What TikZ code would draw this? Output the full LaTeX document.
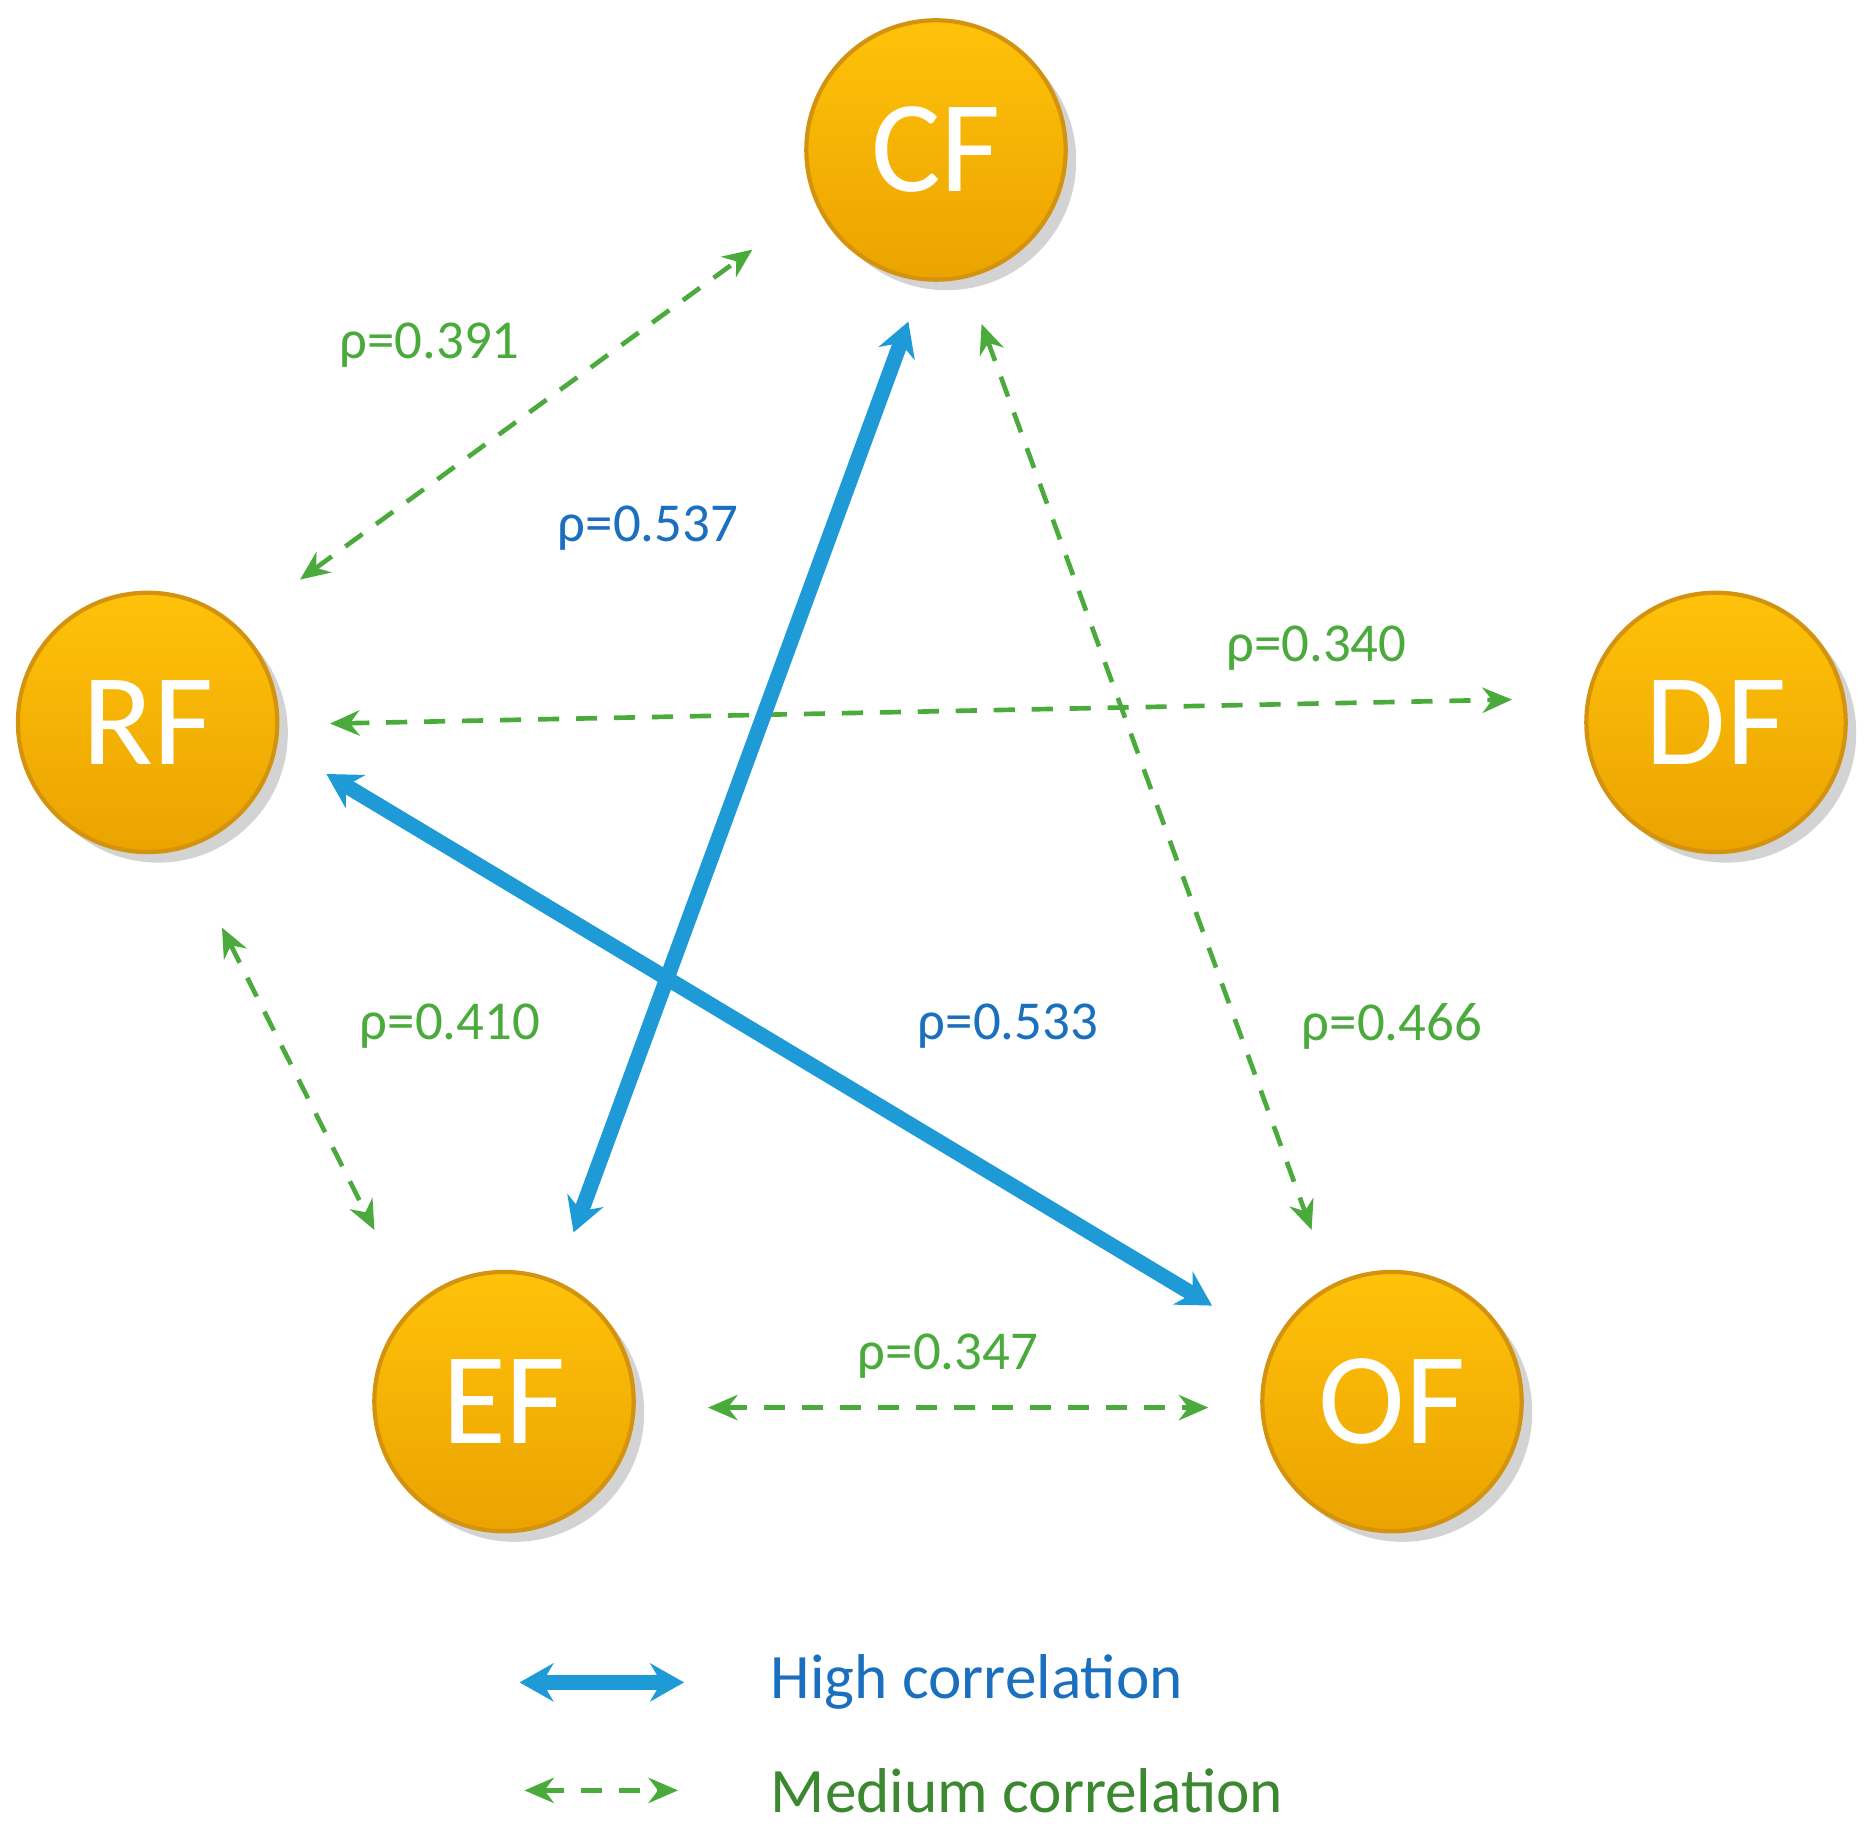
\documentclass[tikz,border=0pt]{standalone}
\usepackage{fontspec}
\setmainfont{Carlito}
\usetikzlibrary{arrows.meta,shadows}
\definecolor{gr}{HTML}{4AAA3C}
\definecolor{bl}{HTML}{1E9BD7}
\definecolor{bltxt}{HTML}{1A6FBF}
\definecolor{or1}{HTML}{FFC20A}
\definecolor{or2}{HTML}{EBA300}
\definecolor{orb}{HTML}{D4930F}
\begin{document}
\begin{tikzpicture}[x=0.01cm,y=-0.01cm,
  fac/.style={circle,minimum size=2.16cm,inner sep=0,draw=orb,line width=1pt,top color=or1,bottom color=or2,
    drop shadow={shadow xshift=2.5pt,shadow yshift=-2.5pt,opacity=0.35},text=white,font=\fontsize{31}{34}\selectfont},
  med/.style={gr,dashed,line width=1.1pt,dash pattern=on 5pt off 4pt,{Stealth[length=7pt,width=6pt]}-{Stealth[length=7pt,width=6pt]}},
  high/.style={bl,line width=3.6pt,{Stealth[length=8pt,width=9pt]}-{Stealth[length=8pt,width=9pt]}},
  gl/.style={gr,font=\fontsize{13}{15}\selectfont},
  bll/.style={bltxt,font=\fontsize{13}{15}\selectfont}]
\useasboundingbox (0,0) rectangle (1560,1522);
\node[fac] (CF) at (780,125) {CF};
\node[fac] (RF) at (123,602) {RF};
\node[fac] (DF) at (1430,602) {DF};
\node[fac] (EF) at (420,1168) {EF};
\node[fac] (OF) at (1160,1168) {OF};
\coordinate (a1) at (250,483); \coordinate (a2) at (627,208);
\coordinate (b1) at (757,268); \coordinate (b2) at (478,1027);
\coordinate (c1) at (818,270); \coordinate (c2) at (1093,1025);
\coordinate (d1) at (275,603); \coordinate (d2) at (1260,583);
\coordinate (e1) at (272,645); \coordinate (e2) at (1010,1088);
\coordinate (f1) at (185,773); \coordinate (f2) at (312,1025);
\coordinate (g1) at (590,1173); \coordinate (g2) at (1007,1173);
\draw[med] (a1) -- (a2);
\draw[med] (c1) -- (c2);
\draw[med] (d1) -- (d2);
\draw[med] (f1) -- (f2);
\draw[med] (g1) -- (g2);
\draw[high] (b1) -- (b2);
\draw[high] (e1) -- (e2);
\node[gl] (l1) at (358,288) {ρ=0.391};
\node[bll] (l2) at (540,440) {ρ=0.537};
\node[gl] (l3) at (1097,540) {ρ=0.340};
\node[gl] (l4) at (375,855) {ρ=0.410};
\node[bll] (l5) at (840,855) {ρ=0.533};
\node[gl] (l6) at (1160,855) {ρ=0.466};
\node[gl] (l7) at (790,1130) {ρ=0.347};
\coordinate (h1) at (433,1402); \coordinate (h2) at (570,1402);
\coordinate (m1) at (437,1492); \coordinate (m2) at (565,1492);
\draw[high] (h1) -- (h2);
\draw[med] (m1) -- (m2);
\node[bll,anchor=west,font=\fontsize{15}{18}\selectfont] (t1) at (630,1402) {High correlation};
\node[gl,anchor=west,font=\fontsize{15}{18}\selectfont,text=gr!80!black] (t2) at (630,1492) {Medium correlation};
\end{tikzpicture}
\end{document}
